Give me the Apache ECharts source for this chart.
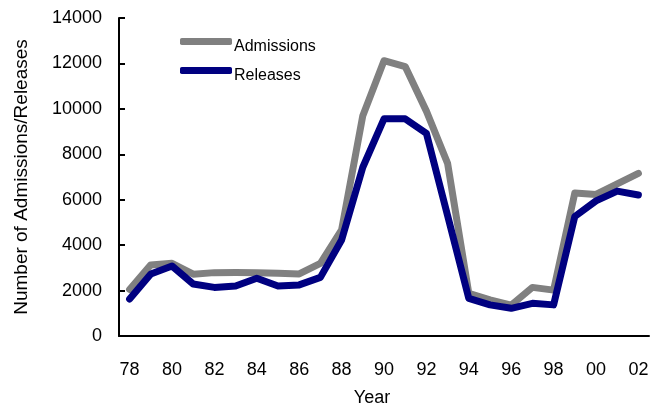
<!DOCTYPE html>
<html>
<head>
<meta charset="utf-8">
<script src="https://cdn.jsdelivr.net/npm/echarts@6/dist/echarts.min.js"></script>
<style>html,body{margin:0;padding:0;background:#fff;}#c{width:652px;height:408px;}</style>
</head>
<body>
<div id="c"></div>
<script>
var years = ['78','79','80','81','82','83','84','85','86','87','88','89','90','91','92','93','94','95','96','97','98','99','00','01','02'];
var admissions = [2050,3130,3200,2720,2790,2800,2790,2760,2730,3200,4670,9700,12120,11860,9900,7600,1880,1590,1360,2140,2020,6300,6230,6700,7160];
var releases   = [1630,2730,3080,2290,2140,2200,2540,2200,2250,2580,4230,7430,9560,9560,8920,5300,1660,1370,1220,1440,1370,5260,5950,6380,6210];
var yTicks = {min:0, max:14000, interval:2000};

var font = 'Liberation Sans, Arial, sans-serif';
var chart = echarts.init(document.getElementById('c'), null, {renderer:'canvas'});
chart.setOption({
  animation:false,
  backgroundColor:'#ffffff',
  grid:{left:119, right:3, top:18, bottom:72, containLabel:false, outerBoundsMode:'none'},
  legend:{
    orient:'vertical', left:180, top:38, itemGap:12, padding:0,
    itemWidth:52, itemHeight:7, icon:'roundRect',
    formatter:'{t|{name}}',
    textStyle:{fontFamily:font, fontSize:16, color:'#000',
      rich:{t:{fontFamily:font, fontSize:16, color:'#000', padding:[11,0,0,-3]}}},
    data:['Admissions','Releases']
  },
  xAxis:{
    type:'category', data:years, boundaryGap:true,
    name:'Year', nameLocation:'middle', nameGap:53,
    nameTextStyle:{fontFamily:font, fontSize:18, color:'#000', padding:[0,24,0,0]},
    axisLine:{lineStyle:{color:'#000', width:2}},
    axisTick:{inside:true, length:6, interval:0, lineStyle:{color:'#000', width:2}},
    axisLabel:{interval:1, fontFamily:font, fontSize:18, color:'#000', margin:25}
  },
  yAxis:{
    type:'value', min:yTicks.min, max:yTicks.max, interval:yTicks.interval,
    name:'Number of Admissions/Releases', nameLocation:'middle', nameGap:88,
    nameTextStyle:{fontFamily:font, fontSize:19, color:'#000'},
    axisLine:{show:true, lineStyle:{color:'#000', width:2}},
    axisTick:{show:true, inside:true, length:6, lineStyle:{color:'#000', width:2}},
    splitLine:{show:false},
    axisLabel:{fontFamily:font, fontSize:18, color:'#000', margin:17, formatter:function(v){return String(v);}}
  },
  series:[
    {name:'Admissions', type:'line', data:admissions, showSymbol:false, symbol:'none',
     itemStyle:{color:'#808080'}, lineStyle:{color:'#808080', width:7, cap:'round', join:'round'}},
    {name:'Releases', type:'line', data:releases, showSymbol:false, symbol:'none',
     itemStyle:{color:'#000080'}, lineStyle:{color:'#000080', width:7, cap:'round', join:'round'}}
  ]
});
</script>
</body>
</html>
